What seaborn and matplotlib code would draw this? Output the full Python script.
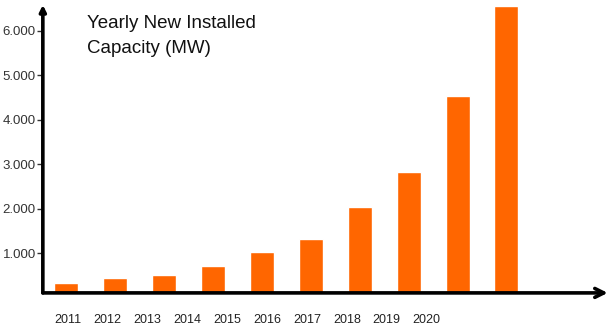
import matplotlib
matplotlib.use('Agg')
import matplotlib.pyplot as plt
import seaborn as sns
import numpy as np

# Yearly new installed capacity (MW)
years = ['2011', '2012', '2013', '2014', '2015', '2016', '2017', '2018', '2019', '2020']
capacity = [330, 440, 515, 725, 1040, 1325, 2040, 2840, 4540, 6550]
ytick_vals = [1000, 2000, 3000, 4000, 5000, 6000]
ytick_labels = ['1.000', '2.000', '3.000', '4.000', '5.000', '6.000']

sns.set_style('white')
plt.rcParams['font.family'] = ['Liberation Sans', 'DejaVu Sans']

fig = plt.figure(figsize=(6.12, 3.28), dpi=100)
ax = fig.add_axes([0.070, 0.107, 0.923, 0.878])

sns.barplot(x=years, y=capacity, color='#FF6600', saturation=1, width=0.49, ax=ax)

ax.set_xlim(-0.48, 11.07)
ax.set_ylim(112, 6584)

# the year labels in the original drift left of the bars
ax.set_xticks(np.arange(len(years)) * 0.815 + 0.03)
ax.set_xticklabels(years, fontsize=9, color='#222222',
                   family=['Liberation Sans Narrow', 'Liberation Sans', 'DejaVu Sans'])
ax.tick_params(axis='x', length=0, pad=15)

ax.set_yticks(ytick_vals)
ax.set_yticklabels(ytick_labels, fontsize=9.5, color='#333333')
ax.tick_params(axis='y', direction='out', length=4, width=1, color='#333333',
               pad=1, left=True)

ax.set_xlabel('')
ax.set_ylabel('')
for s in ax.spines.values():
    s.set_visible(False)

# hand-drawn looking axes with arrows
ax.annotate('', xy=(1.0, 0), xytext=(0, 0), xycoords='axes fraction',
            arrowprops=dict(arrowstyle='->', lw=2.6, color='black',
                            mutation_scale=16, shrinkA=0, shrinkB=0),
            annotation_clip=False)
ax.annotate('', xy=(0, 1.0), xytext=(0, 0), xycoords='axes fraction',
            arrowprops=dict(arrowstyle='-|>', lw=2.6, color='black',
                            mutation_scale=9, shrinkA=0, shrinkB=0),
            annotation_clip=False)

fig.text(0.142, 0.955, 'Yearly New Installed\nCapacity (MW)', fontsize=13.5,
         color='#111111', va='top', ha='left', linespacing=1.65)

fig.savefig('out.png', dpi=100)
